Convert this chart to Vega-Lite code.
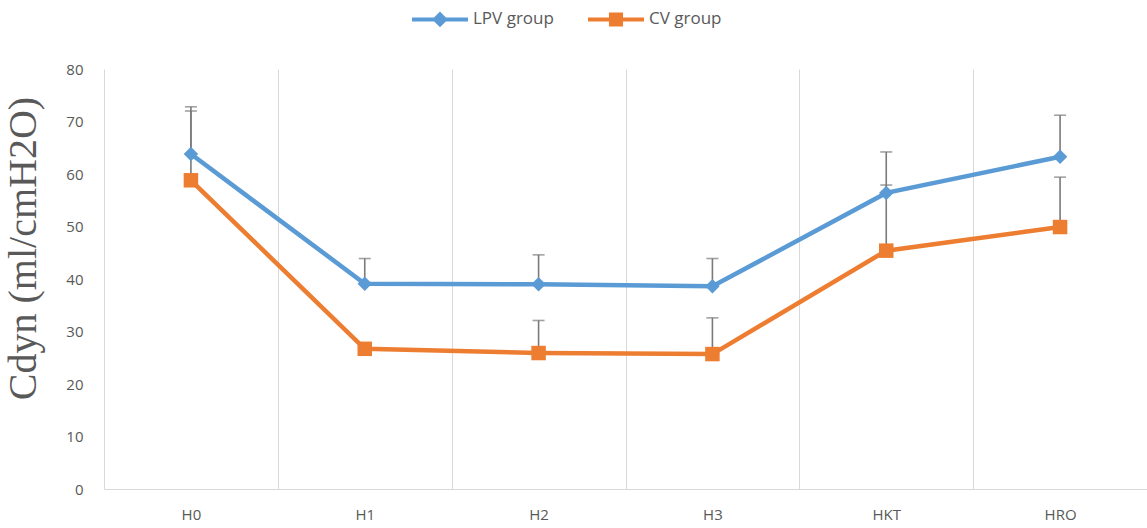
{
  "$schema": "https://vega.github.io/schema/vega-lite/v6.json",
  "autosize": "none",
  "width": 1043,
  "height": 420,
  "padding": {"left": 104, "top": 69, "right": 0, "bottom": 39},
  "background": "white",
  "config": {"view": {"stroke": null}},
  "data": {
    "values": [
      {"group": "LPV group", "time": "H0", "mean": 63.8, "upper": 72.8},
      {"group": "LPV group", "time": "H1", "mean": 39.1, "upper": 43.9},
      {"group": "LPV group", "time": "H2", "mean": 39.0, "upper": 44.6},
      {"group": "LPV group", "time": "H3", "mean": 38.6, "upper": 43.9},
      {"group": "LPV group", "time": "HKT", "mean": 56.4, "upper": 64.2},
      {"group": "LPV group", "time": "HRO", "mean": 63.3, "upper": 71.2},
      {"group": "CV group", "time": "H0", "mean": 58.8, "upper": 72.0},
      {"group": "CV group", "time": "H1", "mean": 26.7, "upper": 27.5},
      {"group": "CV group", "time": "H2", "mean": 25.9, "upper": 32.1},
      {"group": "CV group", "time": "H3", "mean": 25.7, "upper": 32.6},
      {"group": "CV group", "time": "HKT", "mean": 45.4, "upper": 57.9},
      {"group": "CV group", "time": "HRO", "mean": 49.9, "upper": 59.4}
    ]
  },
  "encoding": {
    "x": {
      "field": "time",
      "type": "nominal",
      "sort": ["H0", "H1", "H2", "H3", "HKT", "HRO"],
      "scale": {"type": "band", "paddingInner": 0, "paddingOuter": 0},
      "axis": {
        "title": null,
        "labelAngle": 0,
        "tickBand": "extent",
        "grid": true,
        "gridColor": "#d9d9d9",
        "gridWidth": 1,
        "ticks": false,
        "domainColor": "#d9d9d9",
        "domainWidth": 1,
        "labelPadding": 18,
        "labelFont": "Open Sans",
        "labelFontSize": 15,
        "labelColor": "#595959"
      }
    }
  },
  "layer": [
    {
      "mark": {"type": "rule", "color": "#7a7a7a", "strokeWidth": 1.6},
      "encoding": {
        "y": {"field": "mean", "type": "quantitative"},
        "y2": {"field": "upper"}
      }
    },
    {
      "mark": {"type": "tick", "color": "#7a7a7a", "thickness": 1.6, "size": 12, "orient": "horizontal"},
      "encoding": {
        "y": {"field": "upper", "type": "quantitative"}
      }
    },
    {
      "mark": {"type": "line", "strokeWidth": 4.5},
      "encoding": {
        "y": {
          "field": "mean",
          "type": "quantitative",
          "scale": {"domain": [0, 80], "nice": false},
          "axis": {
            "values": [0, 10, 20, 30, 40, 50, 60, 70, 80],
            "grid": false,
            "domain": false,
            "ticks": false,
            "labelPadding": 21,
            "labelFont": "Open Sans",
            "labelFontSize": 15,
            "labelColor": "#595959",
            "title": "Cdyn (ml/cmH2O)",
            "titleFont": "Liberation Serif",
            "titleFontSize": 40,
            "titleFontWeight": "normal",
            "titleColor": "#595959",
            "titleX": -81,
            "titleY": 179,
            "titleAlign": "center",
            "titleBaseline": "middle",
            "titleAngle": -90
          }
        },
        "color": {
          "field": "group",
          "type": "nominal",
          "scale": {"domain": ["LPV group", "CV group"], "range": ["#5B9BD5", "#ED7D31"]},
          "legend": {
            "title": null,
            "orient": "none",
            "direction": "horizontal",
            "legendX": 306,
            "legendY": -80,
            "symbolSize": 3136,
            "symbolStrokeWidth": 4,
            "labelFont": "Open Sans",
            "labelFontSize": 17,
            "labelColor": "#595959",
            "labelOffset": 3,
            "columnPadding": 26,
            "encode": {
              "symbols": {
                "update": {
                  "shape": {"signal": "datum.value === 'LPV group' ? 'M-1,0H1M0,-0.18L0.18,0L0,0.18L-0.18,0Z' : 'M-1,0H1M-0.18,-0.18H0.18V0.18H-0.18Z'"},
                  "fill": {"signal": "datum.value === 'LPV group' ? '#5B9BD5' : '#ED7D31'"},
                  "stroke": {"signal": "datum.value === 'LPV group' ? '#5B9BD5' : '#ED7D31'"},
                  "strokeWidth": {"value": 4},
                  "opacity": {"value": 1}
                }
              }
            }
          }
        }
      }
    },
    {
      "transform": [{"filter": "datum.group === 'LPV group'"}],
      "mark": {"type": "point", "filled": true, "opacity": 1, "size": 210, "shape": "diamond", "color": "#5B9BD5"},
      "encoding": {
        "y": {"field": "mean", "type": "quantitative"}
      }
    },
    {
      "transform": [{"filter": "datum.group === 'CV group'"}],
      "mark": {"type": "point", "filled": true, "opacity": 1, "size": 210, "shape": "square", "color": "#ED7D31"},
      "encoding": {
        "y": {"field": "mean", "type": "quantitative"}
      }
    }
  ]
}
